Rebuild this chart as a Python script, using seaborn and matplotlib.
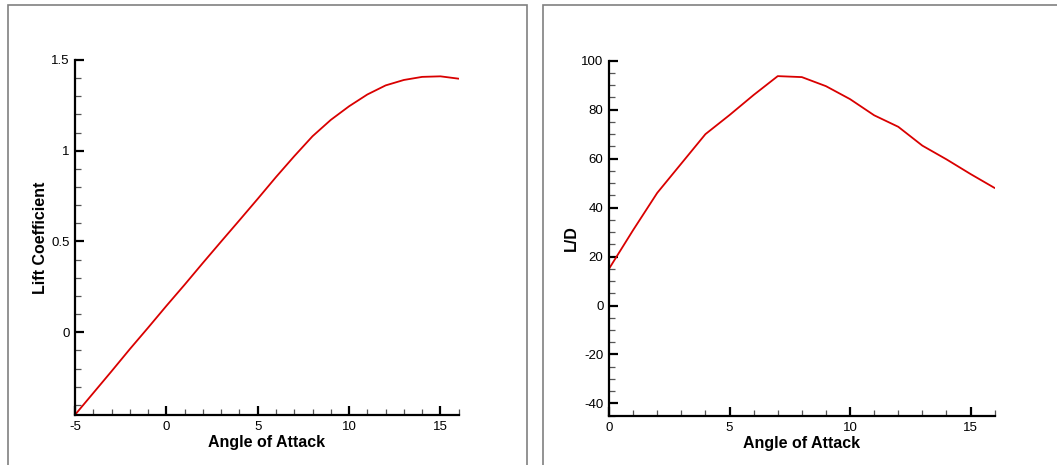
import matplotlib
matplotlib.use("Agg")
import matplotlib.pyplot as plt
import seaborn as sns
import pandas as pd
from matplotlib.ticker import MultipleLocator
from matplotlib.patches import Rectangle

# ---- data ----
alpha_cl = [-5, -4, -3, -2, -1, 0, 1, 2, 3, 4, 5, 6, 7, 8, 9, 10, 11, 12, 13, 14, 15, 16]
lift_coef = [-0.455, -0.335, -0.215, -0.093, 0.025, 0.145, 0.262, 0.382, 0.50, 0.617,
             0.735, 0.855, 0.97, 1.08, 1.17, 1.245, 1.31, 1.36, 1.39, 1.407, 1.41, 1.397]

alpha_ld = [0, 1, 2, 3, 4, 5, 6, 7, 8, 9, 10, 11, 12, 13, 14, 15, 16]
lift_drag = [15, 30.8, 46, 58, 70, 77.8, 86, 93.7, 93.3, 89.6, 84.3, 77.7, 73, 65.3, 59.7, 53.7, 48]

x_label = "Angle of Attack"
y_label_left = "Lift Coefficient"
y_label_right = "L/D"

sns.set_style("white")
plt.rcParams['font.family'] = ['Liberation Sans', 'DejaVu Sans']
plt.rcParams['axes.unicode_minus'] = False
plt.rcParams['text.color'] = 'black'
plt.rcParams['axes.labelcolor'] = 'black'

W, H = 1057, 465
fig = plt.figure(figsize=(W / 100, H / 100), dpi=100)

# panel frames
def px_rect(x0, y0, x1, y1):
    return Rectangle((x0 / W, 1 - y1 / H), (x1 - x0) / W, (y1 - y0) / H,
                     transform=fig.transFigure, fill=False, edgecolor='#808080', lw=1.2)

fig.patches.append(px_rect(8, 5.5, 527, 470))
fig.patches.append(px_rect(542.5, 5.5, 1062, 470))

def ax_px(x0, y0, x1, y1):
    return fig.add_axes([x0 / W, 1 - y1 / H, (x1 - x0) / W, (y1 - y0) / H])

ax1 = ax_px(75, 60, 458.7, 415)
ax2 = ax_px(609, 60.7, 994.7, 415.7)

df1 = pd.DataFrame({"alpha": alpha_cl, "cl": lift_coef})
df2 = pd.DataFrame({"alpha": alpha_ld, "ld": lift_drag})

red = '#d90000'
sns.lineplot(data=df1, x="alpha", y="cl", ax=ax1, color=red, lw=1.3)
sns.lineplot(data=df2, x="alpha", y="ld", ax=ax2, color=red, lw=1.3)

ax1.set_xlim(-5, 16)
ax1.set_ylim(-0.456, 1.5)
ax1.xaxis.set_major_locator(MultipleLocator(5))
ax1.xaxis.set_minor_locator(MultipleLocator(1))
ax1.yaxis.set_minor_locator(MultipleLocator(0.1))
ax1.set_yticks([0, 0.5, 1, 1.5])
ax1.set_yticklabels(["0", "0.5", "1", "1.5"])

ax2.set_xlim(0, 16)
ax2.set_ylim(-45, 100)
ax2.xaxis.set_major_locator(MultipleLocator(5))
ax2.xaxis.set_minor_locator(MultipleLocator(1))
ax2.yaxis.set_major_locator(MultipleLocator(20))
ax2.yaxis.set_minor_locator(MultipleLocator(5))

for ax, yl in ((ax1, y_label_left), (ax2, y_label_right)):
    ax.patch.set_alpha(0)
    for s in ("top", "right"):
        ax.spines[s].set_visible(False)
    for s in ("left", "bottom"):
        ax.spines[s].set_linewidth(1.6)
        ax.spines[s].set_color('black')
    ax.tick_params(which='both', bottom=True, left=True, top=False, right=False)
    ax.tick_params(which='major', direction='in', length=6.3, width=1.6, colors='black',
                   labelsize=9.5, pad=4.5)
    ax.tick_params(which='minor', direction='in', length=4.3, width=0.9, color='#555555')
    ax.tick_params(axis='y', which='major', pad=4)
    ax.set_xlabel(x_label, fontsize=11.5, fontweight='bold', labelpad=1.5)
    ax.set_ylabel(yl, fontsize=11.5, fontweight='bold', labelpad=2)

fig.savefig("out.png", dpi=100)
